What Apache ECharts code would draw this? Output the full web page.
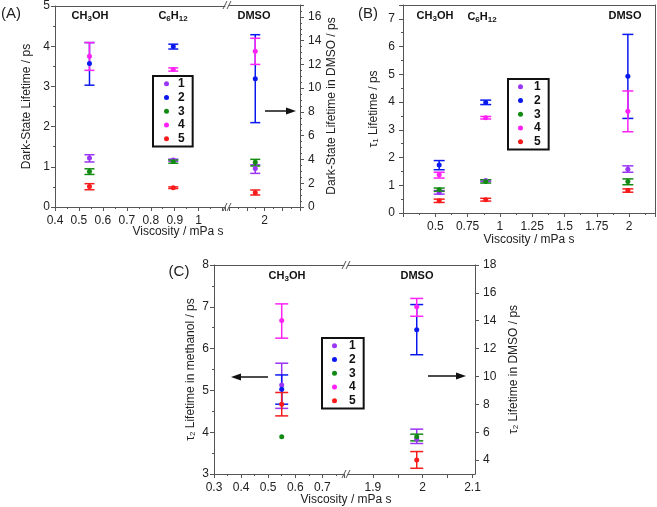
<!DOCTYPE html>
<html>
<head>
<meta charset="utf-8">
<script src="https://cdn.jsdelivr.net/npm/echarts@6/dist/echarts.min.js"></script>
<style>
  html, body { margin: 0; padding: 0; background: #fff; }
  #chart { width: 657px; height: 507px; }
</style>
</head>
<body>
<div id="chart"></div>
<script>
// compounds 1..5
const names = ['1', '2', '3', '4', '5'];
const colors = ['#9a35f5', '#0a18f0', '#138a13', '#ff22f5', '#f71b1b'];

// (A) dark-state lifetime, CH3OH and C6H12 on left axis
const viscA = [0.544, 0.894];
const darkMean = [[1.22, 1.17], [3.57, 3.99], [0.88, 1.13], [3.75, 3.42], [0.51, 0.48]];
const darkLo   = [[1.12, 1.14], [3.03, 3.93], [0.81, 1.09], [3.40, 3.38], [0.43, 0.46]];
const darkHi   = [[1.30, 1.19], [4.09, 4.05], [0.95, 1.17], [4.09, 3.46], [0.58, 0.50]];
// (A) DMSO on right axis
const viscA_dmso = [1.87];
const darkDmsoMean = [3.25, 10.8, 3.76, 13.1, 1.20];
const darkDmsoLo   = [2.83, 7.10, 3.45, 12.0, 1.01];
const darkDmsoHi   = [3.55, 14.5, 4.01, 14.2, 1.43];

// (B) tau1, CH3OH, C6H12, DMSO
const viscB = [0.53, 0.89, 1.99];
const tau1Mean = [[0.74, 1.17, 1.58], [1.73, 3.98, 4.93], [0.84, 1.14, 1.14], [1.38, 3.43, 3.67], [0.44, 0.48, 0.81]];
const tau1Lo   = [[0.68, 1.14, 1.47], [1.56, 3.91, 3.41], [0.78, 1.08, 1.02], [1.26, 3.39, 2.93], [0.38, 0.43, 0.75]];
const tau1Hi   = [[0.81, 1.20, 1.70], [1.89, 4.07, 6.44], [0.90, 1.20, 1.23], [1.47, 3.48, 4.40], [0.50, 0.53, 0.87]];

// (C) tau2 in methanol (left axis)
const viscC = [0.55];
const tau2MeMean = [5.13, 5.03, 3.89, 6.67, 4.67];
const tau2MeLo   = [4.57, 4.67, null, 6.25, 4.39];
const tau2MeHi   = [5.65, 5.37, null, 7.07, 4.95];
// (C) tau2 in DMSO (right axis)
const viscC_dmso = [1.988];
const tau2DmMean = [5.50, 13.36, 5.67, 15.0, 4.00];
const tau2DmLo   = [5.19, 11.56, 5.38, 14.32, 3.41];
const tau2DmHi   = [6.22, 15.16, 5.86, 15.6, 4.61];

const font = 'Liberation Sans, Arial, sans-serif';
const lineCol = '#555';
const txtCol = '#222';
const sub = { fontSize: 8, verticalAlign: 'bottom', padding: [5, 0, 0, 0], fontFamily: font, color: txtCol };
const subBold = Object.assign({}, sub, { fontWeight: 'bold' });

function baseAxis(extra) {
  return Object.assign({
    type: 'value',
    axisLine: { show: true, onZero: false, lineStyle: { color: lineCol, width: 1 } },
    axisTick: { show: true, length: 4, lineStyle: { color: lineCol } },
    minorTick: { show: true, splitNumber: 2, length: 2, lineStyle: { color: lineCol } },
    axisLabel: { color: txtCol, fontSize: 12, fontFamily: font, margin: 5 },
    splitLine: { show: false },
    nameTextStyle: { color: txtCol, fontSize: 12, fontFamily: font, rich: { sub: sub } }
  }, extra);
}
function frameAxis(extra) {
  return Object.assign({
    type: 'value',
    axisLine: { show: true, onZero: false, lineStyle: { color: lineCol, width: 1 } },
    axisTick: { show: false }, axisLabel: { show: false }, splitLine: { show: false }
  }, extra);
}

const grids = [
  { left: 55, top: 5, width: 170, height: 202 },   // A left
  { left: 229, top: 5, width: 71, height: 202 },   // A right (DMSO)
  { left: 403, top: 5, width: 252, height: 208 },  // B
  { left: 214, top: 265, width: 130, height: 209 },// C left
  { left: 348, top: 265, width: 127, height: 209 } // C right (DMSO)
];

const xAxes = [
  baseAxis({ gridIndex: 0, min: 0.4, max: 1.11, interval: 0.1,
    axisLabel: { color: txtCol, fontSize: 12, fontFamily: font, formatter: v => (v > 1.05 ? '' : String(+v.toFixed(1))) } }),
  frameAxis({ gridIndex: 0, position: 'top', min: 0.4, max: 1.11 }),
  baseAxis({ gridIndex: 1, min: 1.5, max: 2.5, interval: 0.25,
    axisLabel: { color: txtCol, fontSize: 12, fontFamily: font, formatter: v => (Math.abs(v - 2) < 1e-6 ? '2' : '') } }),
  frameAxis({ gridIndex: 1, position: 'top', min: 1.5, max: 2.5 }),
  baseAxis({ gridIndex: 2, min: 0.25, max: 2.2, interval: 0.25,
    axisLabel: { color: txtCol, fontSize: 12, fontFamily: font, showMaxLabel: false, formatter: v => (v < 0.3 ? '' : String(+v.toFixed(2))) },
    name: 'Viscosity / mPa s', nameLocation: 'middle', nameGap: 18 }),
  frameAxis({ gridIndex: 2, position: 'top', min: 0.25, max: 2.2 }),
  baseAxis({ gridIndex: 3, min: 0.3, max: 0.78, interval: 0.1, axisLabel: { color: txtCol, fontSize: 12, fontFamily: font, showMaxLabel: false } }),
  frameAxis({ gridIndex: 3, position: 'top', min: 0.3, max: 0.78 }),
  baseAxis({ gridIndex: 4, min: 1.85, max: 2.105,
    axisTick: { show: true, length: 4, customValues: [1.9, 1.95, 2, 2.05, 2.1], lineStyle: { color: lineCol } },
    minorTick: { show: false },
    axisLabel: { color: txtCol, fontSize: 12, fontFamily: font, customValues: [1.9, 2, 2.1] } }),
  frameAxis({ gridIndex: 4, position: 'top', min: 1.85, max: 2.105 })
];

const yAxes = [
  baseAxis({ gridIndex: 0, min: 0, max: 5, interval: 1, name: 'Dark-State Lifetime / ps', nameLocation: 'middle', nameGap: 22 }),
  baseAxis({ gridIndex: 1, position: 'right', min: 0, max: 17, interval: 2,
    minorTick: { show: true, splitNumber: 4, length: 2, lineStyle: { color: lineCol } },
    axisLabel: { color: txtCol, fontSize: 12, fontFamily: font, showMaxLabel: false },
    name: 'Dark-State Lifetime in DMSO / ps', nameLocation: 'middle', nameGap: 24 }),
  baseAxis({ gridIndex: 2, min: 0, max: 7.5, interval: 1,
    axisLabel: { color: txtCol, fontSize: 12, fontFamily: font, showMaxLabel: false },
    name: 'τ{sub|1} Lifetime / ps', nameLocation: 'middle', nameGap: 23 }),
  frameAxis({ gridIndex: 2, position: 'right', min: 0, max: 7.5 }),
  baseAxis({ gridIndex: 3, min: 3, max: 8, interval: 1, name: 'τ{sub|2} Lifetime in methanol / ps', nameLocation: 'middle', nameGap: 17 }),
  baseAxis({ gridIndex: 4, position: 'right', min: 3, max: 18,
    axisTick: { show: true, length: 4, customValues: [4, 6, 8, 10, 12, 14, 16, 18], lineStyle: { color: lineCol } },
    minorTick: { show: false },
    axisLabel: { color: txtCol, fontSize: 12, fontFamily: font, customValues: [4, 6, 8, 10, 12, 14, 16, 18] },
    name: 'τ{sub|2} Lifetime in DMSO / ps', nameLocation: 'middle', nameGap: 32 })
];

function errRender(cap) {
  return function (params, api) {
    const x = api.value(0);
    const p1 = api.coord([x, api.value(1)]);
    const p2 = api.coord([x, api.value(2)]);
    const st = { stroke: api.visual('color'), lineWidth: 1.5 };
    return {
      type: 'group', children: [
        { type: 'line', shape: { x1: p1[0], y1: p1[1], x2: p2[0], y2: p2[1] }, style: st },
        { type: 'line', shape: { x1: p1[0] - cap / 2, y1: p1[1], x2: p1[0] + cap / 2, y2: p1[1] }, style: st },
        { type: 'line', shape: { x1: p2[0] - cap / 2, y1: p2[1], x2: p2[0] + cap / 2, y2: p2[1] }, style: st }
      ]
    };
  };
}

const series = [];
function addSet(xi, yi, xs, mean, lo, hi, cap, size) {
  names.forEach((n, k) => {
    const m = Array.isArray(mean[k]) ? mean[k] : [mean[k]];
    const l = Array.isArray(lo[k]) ? lo[k] : [lo[k]];
    const h = Array.isArray(hi[k]) ? hi[k] : [hi[k]];
    const errData = [];
    xs.forEach((x, j) => { if (l[j] != null) errData.push([x, l[j], h[j]]); });
    series.push({
      name: n + ' err', type: 'custom', xAxisIndex: xi, yAxisIndex: yi,
      renderItem: errRender(cap), itemStyle: { color: colors[k] },
      encode: { x: 0, y: [1, 2] }, data: errData, z: 2, silent: true
    });
    series.push({
      name: n, type: 'scatter', xAxisIndex: xi, yAxisIndex: yi,
      symbolSize: size, itemStyle: { color: colors[k], opacity: 1 },
      data: xs.map((x, j) => [x, m[j]]), z: 3
    });
  });
}
addSet(0, 0, viscA, darkMean, darkLo, darkHi, 10, 5);
addSet(2, 1, viscA_dmso, darkDmsoMean, darkDmsoLo, darkDmsoHi, 10, 5);
addSet(4, 2, viscB, tau1Mean, tau1Lo, tau1Hi, 11, 5);
addSet(6, 4, viscC, tau2MeMean, tau2MeLo, tau2MeHi, 13, 5);
addSet(8, 5, viscC_dmso, tau2DmMean, tau2DmLo, tau2DmHi, 13, 5);

function legendAt(left, top, padL, textPad) {
  return {
    data: names, orient: 'vertical', left: left, top: top,
    icon: 'circle', itemWidth: 5, itemHeight: 5, itemGap: 0,
    padding: [1, 8, 1, padL],
    borderColor: '#111', borderWidth: 2,
    selectedMode: false,
    textStyle: { fontWeight: 'bold', fontSize: 12, fontFamily: font, color: '#111', lineHeight: 13.7, padding: [0, 0, 0, textPad] }
  };
}

function txt(x, y, rich, size) {
  return { type: 'text', x: x, y: y, style: { text: rich, fontFamily: font, fontSize: size || 12, fontWeight: 'bold', fill: '#111', align: 'center', verticalAlign: 'middle', rich: { s: subBold } } };
}
function plainTxt(x, y, t, size) {
  return { type: 'text', x: x, y: y, style: { text: t, fontFamily: font, fontSize: size || 12, fill: txtCol, align: 'center', verticalAlign: 'middle' } };
}
function brk(x, y) {
  return [
    { type: 'rect', shape: { x: x - 4, y: y - 1, width: 8, height: 2 }, style: { fill: '#fff' } },
    { type: 'line', shape: { x1: x - 4, y1: y + 4, x2: x, y2: y - 4 }, style: { stroke: lineCol, lineWidth: 1 } },
    { type: 'line', shape: { x1: x, y1: y + 4, x2: x + 4, y2: y - 4 }, style: { stroke: lineCol, lineWidth: 1 } }
  ];
}
function arrow(x1, x2, y) {
  const d = x2 > x1 ? 1 : -1;
  return [
    { type: 'line', shape: { x1: x1, y1: y, x2: x2 - d * 8, y2: y }, style: { stroke: '#111', lineWidth: 1.5 } },
    { type: 'polygon', shape: { points: [[x2, y], [x2 - d * 10, y - 3.5], [x2 - d * 10, y + 3.5]] }, style: { fill: '#111' } }
  ];
}

const graphics = [
  plainTxt(11, 14, '(A)', 15), plainTxt(368, 14, '(B)', 15), plainTxt(179, 272, '(C)', 15),
  txt(90, 16, 'CH{s|3}OH', 11), txt(173, 16, 'C{s|6}H{s|12}', 11), txt(254, 16, 'DMSO', 11),
  txt(435, 16, 'CH{s|3}OH', 11), txt(482, 17, 'C{s|6}H{s|12}', 11), txt(625, 16, 'DMSO', 11),
  txt(287, 276, 'CH{s|3}OH', 11), txt(417, 276, 'DMSO', 11),
  plainTxt(178, 232, 'Viscosity / mPa s', 12),
  plainTxt(346, 500, 'Viscosity / mPa s', 12)
].concat(brk(227, 5), brk(227, 207), brk(346, 265), brk(346, 474),
  arrow(265, 296, 111), arrow(268, 231, 377), arrow(428, 466, 376));

const chart = echarts.init(document.getElementById('chart'), null, { renderer: 'canvas' });
chart.setOption({
  animation: false,
  backgroundColor: '#fff',
  grid: grids,
  xAxis: xAxes,
  yAxis: yAxes,
  legend: [legendAt(153, 76, 11, 4), legendAt(508, 79, 10, 6), legendAt(322, 338, 10, 7)],
  series: series,
  graphic: graphics
});
</script>
</body>
</html>
